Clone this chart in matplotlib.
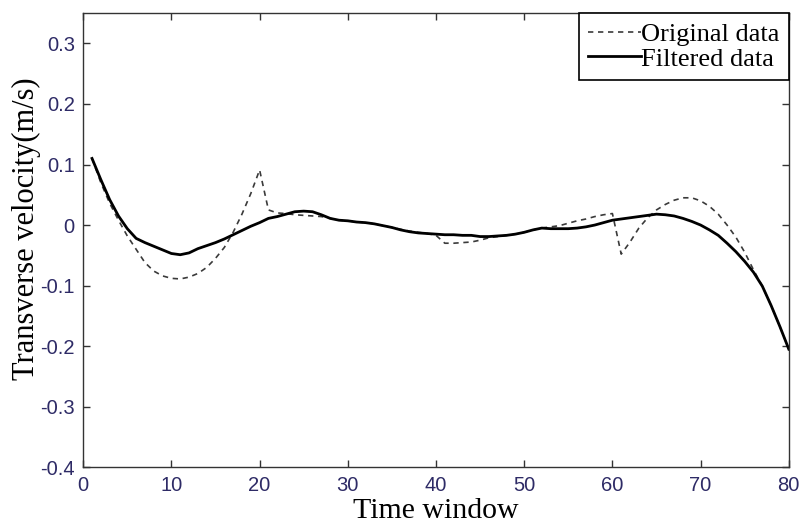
import matplotlib
matplotlib.use("Agg")
import matplotlib.pyplot as plt

time_window = list(range(1, 81))

original_data = [
    0.110, 0.070, 0.036, 0.008, -0.018, -0.040, -0.062, -0.076, -0.084, -0.088,
    -0.089, -0.086, -0.080, -0.070, -0.055, -0.037, -0.012, 0.018, 0.052, 0.091,
    0.025, 0.020, 0.019, 0.017, 0.016, 0.015, 0.014, 0.011, 0.008, 0.007,
    0.005, 0.004, 0.002, -0.001, -0.004, -0.007, -0.010, -0.012, -0.014, -0.017,
    -0.030, -0.030, -0.029, -0.028, -0.025, -0.021, -0.019, -0.017, -0.015, -0.012,
    -0.008, -0.005, -0.003, -0.001, 0.003, 0.007, 0.010, 0.014, 0.017, 0.019,
    -0.048, -0.028, -0.005, 0.012, 0.025, 0.034, 0.041, 0.045, 0.045, 0.040,
    0.031, 0.018, 0.000, -0.020, -0.045, -0.074, -0.101, -0.133, -0.168, -0.205,
]

filtered_data = [
    0.110, 0.075, 0.042, 0.015, -0.006, -0.022, -0.029, -0.035, -0.041, -0.047,
    -0.049, -0.046, -0.039, -0.034, -0.029, -0.023, -0.016, -0.009, -0.002, 0.004,
    0.011, 0.014, 0.018, 0.022, 0.023, 0.022, 0.017, 0.011, 0.008, 0.007,
    0.005, 0.004, 0.002, -0.001, -0.004, -0.008, -0.011, -0.013, -0.014, -0.015,
    -0.016, -0.016, -0.017, -0.017, -0.019, -0.019, -0.018, -0.017, -0.015, -0.012,
    -0.008, -0.005, -0.006, -0.006, -0.006, -0.005, -0.003, 0.000, 0.004, 0.008,
    0.010, 0.012, 0.014, 0.016, 0.018, 0.017, 0.015, 0.011, 0.006, 0.000,
    -0.008, -0.017, -0.030, -0.044, -0.060, -0.078, -0.101, -0.133, -0.168, -0.205,
]

x_ticks = [0, 10, 20, 30, 40, 50, 60, 70, 80]
y_ticks = [-0.4, -0.3, -0.2, -0.1, 0, 0.1, 0.2, 0.3]
y_tick_labels = ["-0.4", "-0.3", "-0.2", "-0.1", "0", "0.1", "0.2", "0.3"]

fig = plt.figure(figsize=(8, 5.25), dpi=100)
ax = fig.add_axes([0.104, 0.110, 0.882, 0.865])

ax.plot(time_window, original_data, color="#3a3a3a", linewidth=1.2,
        linestyle=(0, (3.2, 2.8)), label="Original data")
ax.plot(time_window, filtered_data, color="black", linewidth=2.0,
        label="Filtered data")

ax.set_xlim(0, 80)
ax.set_ylim(-0.4, 0.35)
ax.set_xticks(x_ticks)
ax.set_yticks(y_ticks)
ax.set_yticklabels(y_tick_labels)

tick_color = "#2e2b66"
ax.tick_params(direction="in", top=True, right=True, length=5, width=1,
               color="#333333", labelsize=14.5, labelcolor=tick_color, pad=6)
for lab in ax.get_xticklabels() + ax.get_yticklabels():
    lab.set_family("Liberation Sans")
for sp in ax.spines.values():
    sp.set_linewidth(1.0)
    sp.set_color("#333333")

serif = "Liberation Serif"
ax.set_xlabel("Time window", fontsize=21.5, family=serif, labelpad=2.5)
ax.set_ylabel("Transverse velocity(m/s)", fontsize=22, family=serif)
ax.yaxis.set_label_coords(-0.060, 0.526)

leg = ax.legend(loc="upper right", prop={"family": serif, "size": 19},
                handlelength=2.0, handletextpad=0.0, borderpad=0.35,
                labelspacing=0.05, borderaxespad=0.0, fancybox=False,
                framealpha=1.0, edgecolor="black")
leg.get_frame().set_linewidth(1.2)

fig.savefig("out.png", dpi=100)
